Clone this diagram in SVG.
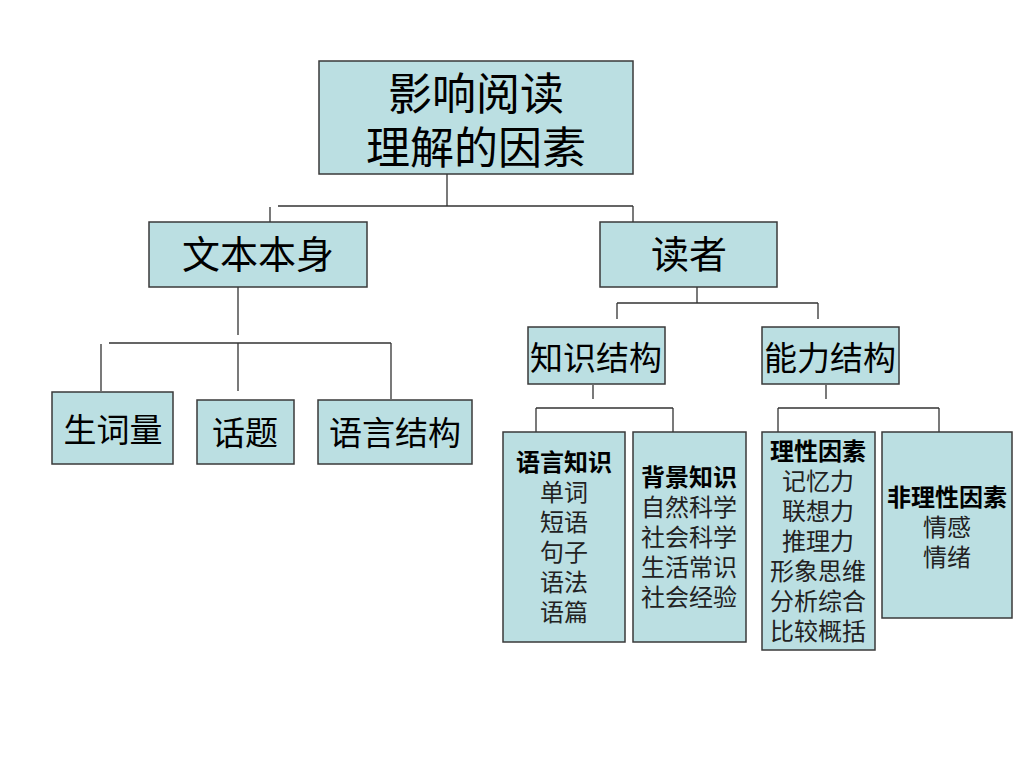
<svg xmlns="http://www.w3.org/2000/svg" width="1024" height="768" viewBox="0 0 1024 768">
<style>
.box{fill:#bbdfe2;stroke:#3a3a3a;stroke-width:1.5}
.ln{stroke:#333;stroke-width:1.3;fill:none}
text{font-family:"Liberation Sans","Noto Sans CJK SC",sans-serif;text-anchor:middle;fill:#000}
.t44{font-size:44px}
.t38{font-size:38px}
.t34{font-size:33px}
.hd{font-size:24px;font-weight:bold}
.it{font-size:24px;fill:#222}
</style>
<rect width="1024" height="768" fill="#fff"/>
<g id="connectors">
<path class="ln" d="M447,174V206M278,206H633M270,207V222M633,206V222"/>
<path class="ln" d="M238,287V335M109,343H391M101,344V391M238,343V391M391,343V399"/>
<path class="ln" d="M697,287V303M617,303H818M617,303V319M818,303V319"/>
<path class="ln" d="M593,385V399M536,408H673M536,408V432M673,408V432"/>
<path class="ln" d="M826,385V399M778,408H939M778,408V432M939,408V432"/>
</g>
<g id="root">
<rect class="box" x="319" y="61" width="314" height="113"/>
<text class="t44" x="476" y="110">影响阅读</text>
<text class="t44" x="476" y="164">理解的因素</text>
</g>
<g id="text-itself">
<rect class="box" x="149" y="222" width="218" height="65"/>
<text class="t38" x="258" y="268">文本本身</text>
</g>
<g id="reader">
<rect class="box" x="600" y="222" width="177" height="65"/>
<text class="t38" x="689" y="268">读者</text>
</g>
<g id="new-words">
<rect class="box" x="52" y="392" width="121" height="72"/>
<text class="t34" x="113" y="442">生词量</text>
</g>
<g id="topic">
<rect class="box" x="197" y="400" width="97" height="64"/>
<text class="t34" x="245" y="445">话题</text>
</g>
<g id="language-structure">
<rect class="box" x="318" y="400" width="154" height="64"/>
<text class="t34" x="395" y="445">语言结构</text>
</g>
<g id="knowledge-structure">
<rect class="box" x="528" y="327" width="137" height="57"/>
<text class="t34" x="596" y="370">知识结构</text>
</g>
<g id="ability-structure">
<rect class="box" x="762" y="327" width="137" height="57"/>
<text class="t34" x="830" y="370">能力结构</text>
</g>
<g id="language-knowledge">
<rect class="box" x="503" y="432" width="122" height="210"/>
<text class="hd" x="564" y="471">语言知识</text>
<text class="it" x="564" y="501">单词</text>
<text class="it" x="564" y="531">短语</text>
<text class="it" x="564" y="561">句子</text>
<text class="it" x="564" y="591">语法</text>
<text class="it" x="564" y="621">语篇</text>
</g>
<g id="background-knowledge">
<rect class="box" x="633" y="432" width="113" height="210"/>
<text class="hd" x="689" y="486">背景知识</text>
<text class="it" x="689" y="516">自然科学</text>
<text class="it" x="689" y="546">社会科学</text>
<text class="it" x="689" y="576">生活常识</text>
<text class="it" x="689" y="606">社会经验</text>
</g>
<g id="rational-factors">
<rect class="box" x="762" y="432" width="113" height="218"/>
<text class="hd" x="818" y="460">理性因素</text>
<text class="it" x="818" y="490">记忆力</text>
<text class="it" x="818" y="520">联想力</text>
<text class="it" x="818" y="550">推理力</text>
<text class="it" x="818" y="580">形象思维</text>
<text class="it" x="818" y="610">分析综合</text>
<text class="it" x="818" y="640">比较概括</text>
</g>
<g id="nonrational-factors">
<rect class="box" x="882" y="432" width="130" height="186"/>
<text class="hd" x="947" y="506">非理性因素</text>
<text class="it" x="947" y="536">情感</text>
<text class="it" x="947" y="566">情绪</text>
</g>
</svg>
